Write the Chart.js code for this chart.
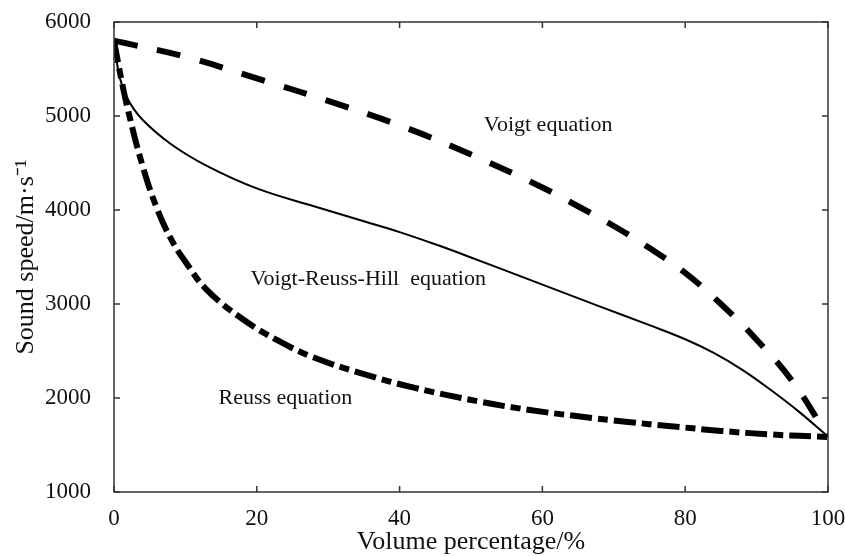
<!DOCTYPE html>
<html>
<head>
<meta charset="utf-8">
<script src="https://cdn.jsdelivr.net/npm/chart.js@4/dist/chart.umd.min.js"></script>
<style>
html,body{margin:0;padding:0;background:#fff;}
#wrap{width:845px;height:556px;position:relative;}
</style>
</head>
<body>
<div id="wrap"><canvas id="c"></canvas></div>
<script>
// ---- data ----
const voigtX = [0, 10, 20, 30, 40, 50, 60, 65, 70, 75, 80, 85, 90, 95, 100];
const voigtY = [5800, 5630, 5400, 5160, 4900, 4590, 4240, 4040, 3830, 3595, 3330, 3000, 2620, 2180, 1590];

const vrhX = [0, 0.8, 2, 4, 8, 13, 20, 28, 35, 40, 45, 50, 59, 68, 75, 80, 84, 88, 92, 96, 100];
const vrhY = [5800, 5410, 5170, 4960, 4700, 4470, 4230, 4040, 3880, 3765, 3635, 3495, 3235, 2975, 2775, 2625, 2480, 2300, 2085, 1850, 1590];

const reussX = [0, 1, 2, 4, 6, 8, 10, 13, 18, 23, 28, 35, 42, 51, 58, 65, 72, 78, 85, 92, 100];
const reussY = [5800, 5400, 5050, 4470, 4020, 3690, 3450, 3150, 2840, 2610, 2430, 2255, 2110, 1965, 1875, 1805, 1745, 1700, 1650, 1612, 1585];

const xTicks = [0, 20, 40, 60, 80, 100];
const yTicks = [1000, 2000, 3000, 4000, 5000, 6000];

const labelTexts = ['Voigt equation', 'Voigt-Reuss-Hill  equation', 'Reuss equation'];
const labelX = [60.8, 35.6, 24];
const labelY = [4904, 3266, 2000];

const xTitle = 'Volume percentage/%';
const yTitle = 'Sound speed/m\u00B7s\u207B\u00B9';

function pts(xs, ys){ return xs.map((x,i)=>({x:x, y:ys[i]})); }

const FONT = '"Liberation Serif", "Times New Roman", serif';

const framePlugin = {
  id: 'frame',
  afterDraw(chart){
    const {ctx, chartArea:a, scales:{x, y}} = chart;
    ctx.save();
    ctx.strokeStyle = '#333';
    ctx.lineWidth = 1.5;
    ctx.strokeRect(a.left, a.top, a.right - a.left, a.bottom - a.top);
    const L = 6;
    ctx.beginPath();
    xTicks.forEach(v => {
      const px = x.getPixelForValue(v);
      ctx.moveTo(px, a.bottom); ctx.lineTo(px, a.bottom - L);
      ctx.moveTo(px, a.top); ctx.lineTo(px, a.top + L);
    });
    yTicks.forEach(v => {
      const py = y.getPixelForValue(v);
      ctx.moveTo(a.left, py); ctx.lineTo(a.left + L, py);
      ctx.moveTo(a.right, py); ctx.lineTo(a.right - L, py);
    });
    ctx.stroke();
    // annotations
    ctx.fillStyle = '#111';
    ctx.font = '22px ' + FONT;
    ctx.textAlign = 'center';
    ctx.textBaseline = 'middle';
    labelTexts.forEach((t, i) => {
      ctx.fillText(t, x.getPixelForValue(labelX[i]), y.getPixelForValue(labelY[i]));
    });
    ctx.restore();
  }
};

new Chart(document.getElementById('c'), {
  type: 'scatter',
  data: {
    datasets: [
      { label: 'Voigt', data: pts(voigtX, voigtY), showLine: true, borderColor: '#000', borderWidth: 6,
        borderDash: [24, 20], pointRadius: 0, tension: 0.4, borderCapStyle: 'butt' },
      { label: 'VRH', data: pts(vrhX, vrhY), showLine: true, borderColor: '#000', borderWidth: 2,
        pointRadius: 0, tension: 0.4 },
      { label: 'Reuss', data: pts(reussX, reussY), showLine: true, borderColor: '#000', borderWidth: 6,
        borderDash: [22, 6, 10, 6], pointRadius: 0, tension: 0.4, borderCapStyle: 'butt' }
    ]
  },
  options: {
    responsive: true,
    maintainAspectRatio: false,
    animation: false,
    layout: { padding: { top: 22, right: 17, left: 0, bottom: 0 } },
    plugins: { legend: { display: false }, tooltip: { enabled: false } },
    scales: {
      x: {
        type: 'linear', min: 0, max: 100,
        afterBuildTicks(s){ s.ticks = xTicks.map(v => ({value: v})); },
        afterFit(s){ s.height = 64; s.paddingLeft = 0; s.paddingRight = 0; },
        grid: { display: false }, border: { display: false },
        ticks: { color: '#111', font: { family: FONT, size: 23 }, padding: 5, maxRotation: 0,
                 callback: v => String(v) },
        title: { display: true, text: xTitle, color: '#111', font: { family: FONT, size: 26, lineHeight: 1.05 }, padding: { top: 0, bottom: 0 } }
      },
      y: {
        type: 'linear', min: 1000, max: 6000,
        afterBuildTicks(s){ s.ticks = yTicks.map(v => ({value: v})); },
        afterFit(s){ s.width = 114; s.paddingTop = 0; s.paddingBottom = 0; },
        grid: { display: false }, border: { display: false },
        ticks: { color: '#111', font: { family: FONT, size: 23 }, padding: 15,
                 callback: v => String(v) },
        title: { display: true, text: yTitle, color: '#111', font: { family: FONT, size: 26, lineHeight: 1.1 }, padding: { top: 12, bottom: 0 } }
      }
    }
  },
  plugins: [framePlugin]
});
</script>
</body>
</html>
